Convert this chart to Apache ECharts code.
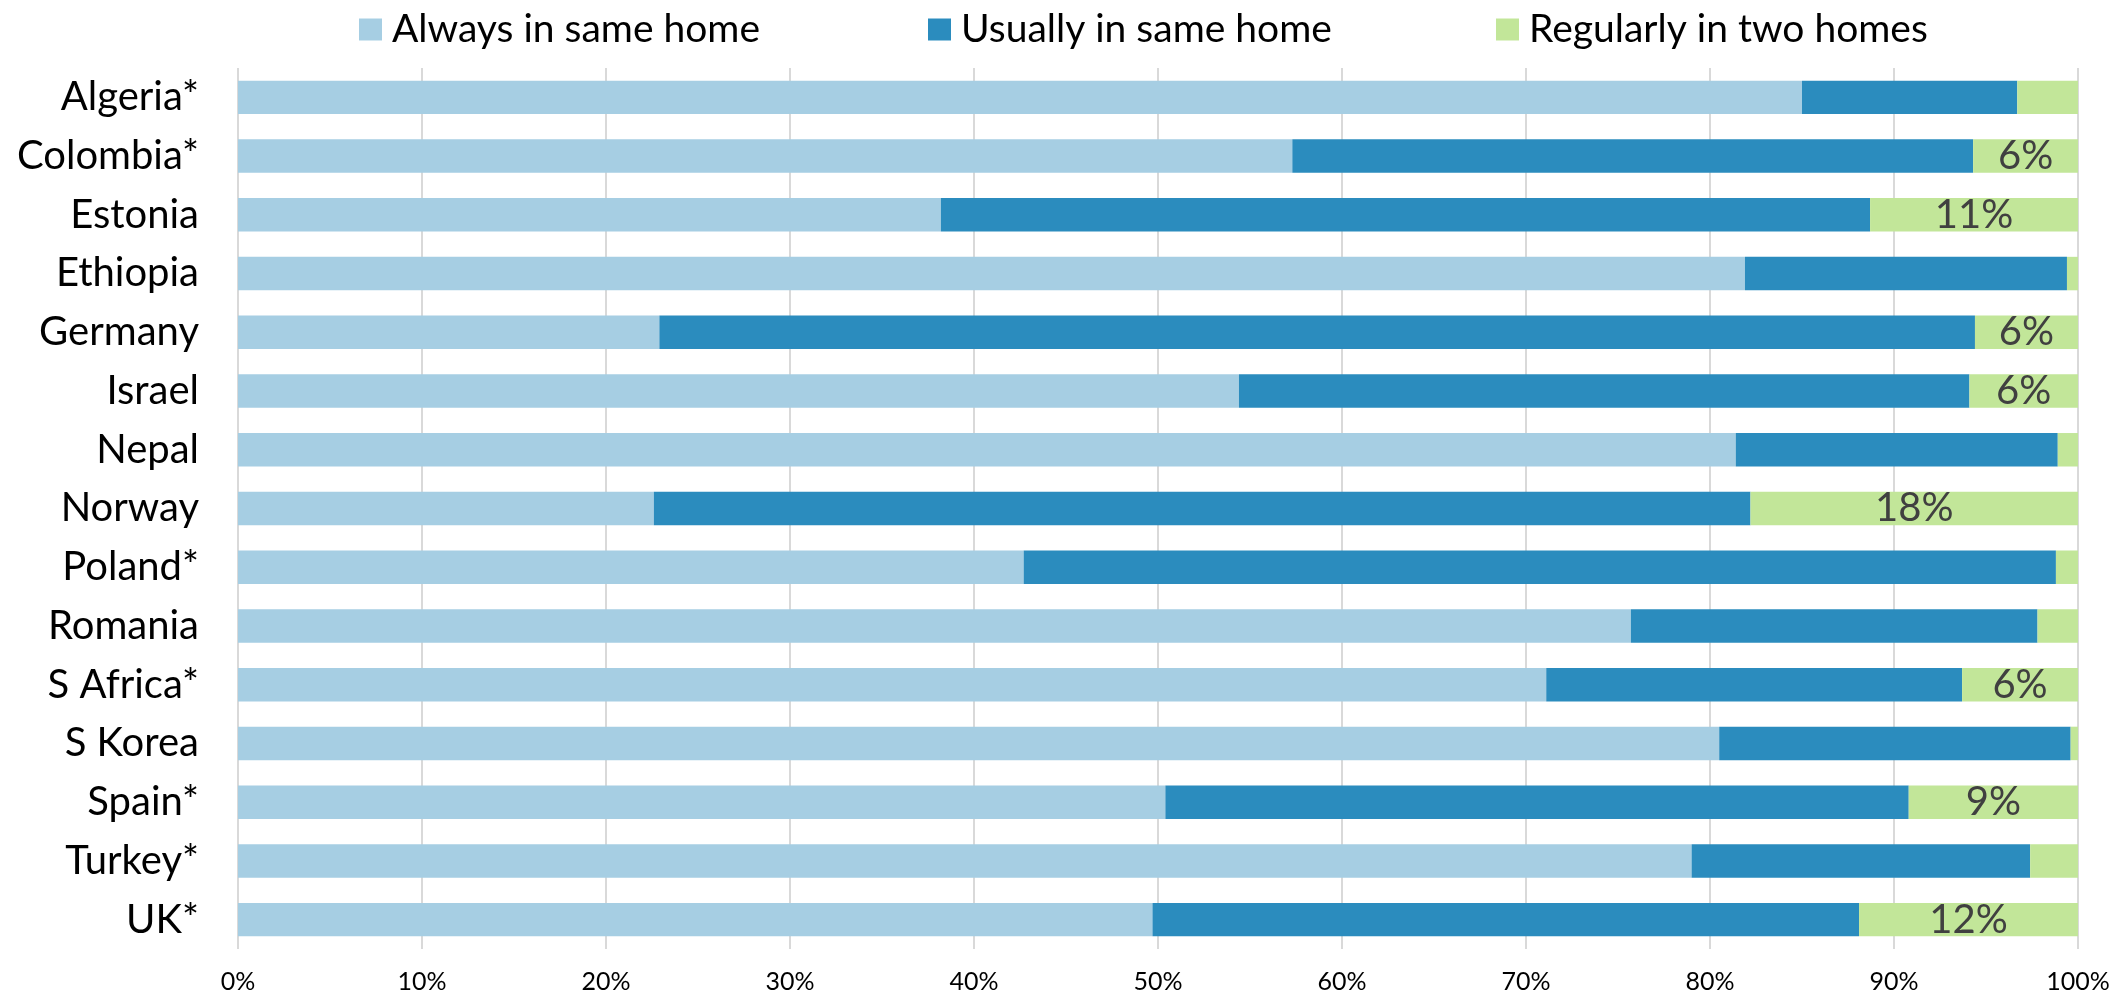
<!DOCTYPE html>
<html>
<head>
<meta charset="utf-8">
<title>Where children live</title>
<script src="https://cdn.jsdelivr.net/npm/echarts@6/dist/echarts.min.js"></script>
<style>
  html, body { margin: 0; padding: 0; background: #ffffff; }
  #chart { width: 2126px; height: 998px; }
</style>
</head>
<body>
<div id="chart"></div>
<script>
// Countries, top to bottom
const countries = ['Algeria*', 'Colombia*', 'Estonia', 'Ethiopia', 'Germany', 'Israel', 'Nepal',
  'Norway', 'Poland*', 'Romania', 'S Africa*', 'S Korea', 'Spain*', 'Turkey*', 'UK*'];

// Share of children (%) in each living arrangement
const alwaysSame = [85.0, 57.3, 38.2, 81.9, 22.9, 54.4, 81.4, 22.6, 42.7, 75.7, 71.1, 80.5, 50.4, 79.0, 49.7];
const usuallySame = [11.7, 37.0, 50.5, 17.5, 71.5, 39.7, 17.5, 59.6, 56.1, 22.1, 22.6, 19.1, 40.4, 18.4, 38.4];
const twoHomes = [3.3, 5.7, 11.3, 0.6, 5.6, 5.9, 1.1, 17.8, 1.2, 2.2, 6.3, 0.4, 9.2, 2.6, 11.9];

const seriesNames = ['Always in same home', 'Usually in same home', 'Regularly in two homes'];
const colors = ['#a6cee3', '#2b8cbe', '#c2e699'];

const FONT = 'Lato, "Noto Sans", sans-serif';

const chart = echarts.init(document.getElementById('chart'), null, { renderer: 'canvas' });

function legendAt(name, left) {
  return {
    data: [name],
    left: left,
    top: 5,
    itemWidth: 23,
    itemHeight: 22,
    icon: 'rect',
    textStyle: { fontFamily: FONT, fontSize: 39, color: '#000', padding: [0, 0, 0, 5] },
    selectedMode: false
  };
}

const option = {
  backgroundColor: '#ffffff',
  animation: false,
  color: colors,
  legend: [
    legendAt(seriesNames[0], 354),
    legendAt(seriesNames[1], 923),
    legendAt(seriesNames[2], 1491)
  ],
  grid: { left: 238, right: 48, top: 68, bottom: 49, containLabel: false },
  xAxis: {
    type: 'value',
    min: 0,
    max: 100,
    interval: 10,
    axisLine: { show: false },
    axisTick: { show: false },
    splitLine: { show: true, lineStyle: { color: '#d9d9d9', width: 2 } },
    axisLabel: {
      formatter: '{value}%',
      fontFamily: FONT,
      fontSize: 25,
      color: '#000',
      margin: 20
    }
  },
  yAxis: {
    type: 'category',
    data: countries,
    inverse: true,
    axisLine: { show: false },
    axisTick: { show: false },
    splitLine: { show: false },
    axisLabel: { fontFamily: FONT, fontSize: 40, color: '#000', margin: 39 }
  },
  series: [
    {
      name: seriesNames[0], type: 'bar', stack: 'total', data: alwaysSame,
      barCategoryGap: '43%', itemStyle: { color: colors[0] }
    },
    {
      name: seriesNames[1], type: 'bar', stack: 'total', data: usuallySame,
      barCategoryGap: '43%', itemStyle: { color: colors[1] }
    },
    {
      name: seriesNames[2], type: 'bar', stack: 'total', data: twoHomes,
      barCategoryGap: '43%', itemStyle: { color: colors[2] },
      label: {
        show: true,
        position: 'inside',
        fontFamily: FONT,
        fontSize: 40,
        color: '#404040',
        formatter: p => (p.value >= 5 ? Math.round(p.value) + '%' : '')
      }
    }
  ]
};

chart.setOption(option);
</script>
</body>
</html>
